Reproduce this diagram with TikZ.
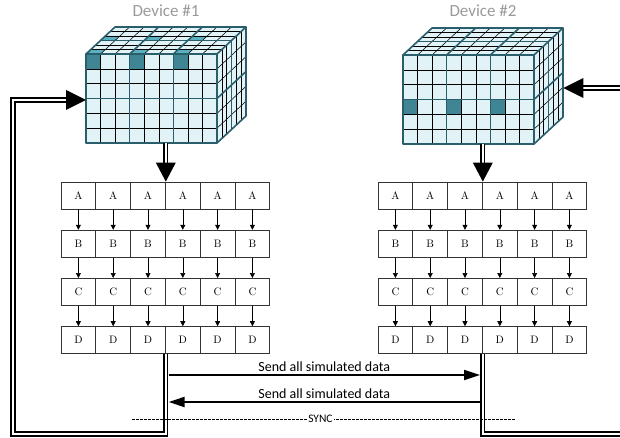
\documentclass[tikz,border=0pt]{standalone}
\usepackage{fontspec}
\newfontfamily\labelfont{Carlito}
\usetikzlibrary{arrows.meta,calc}

\definecolor{cubefill}{HTML}{E2F3F8}
\definecolor{cubeedge}{HTML}{2B5E6B}
\definecolor{cellhi}{HTML}{3F8593}
\definecolor{tophi}{HTML}{5AAFC0}
\definecolor{devgray}{HTML}{9A9A9A}

% highlighted cells of a cube: front face (column, row) and top face (column, depth)
\newcommand\frontcell[2]{\fill[cellhi] (#1*14.5556,#2*14.8333) rectangle ++(14.5556,14.8333);}
\newcommand\topcell[2]{\fill[tophi] (#1*14.5556+#2*4.8333,-#2*4.5) -- ++(14.5556,0) -- ++(4.8333,-4.5) -- ++(-14.5556,0) -- cycle;}

% a 9 x 6 x 6 voxel block; #1 = front top-left corner, #2 = highlighted cells
\newcommand\gridcube[2]{%
\begin{scope}[shift={(#1)}]
  \fill[cubefill] (0,0) rectangle (131,89);
  \fill[cubefill] (0,0) -- (29,-27) -- (160,-27) -- (131,0) -- cycle;
  \fill[cubefill] (131,0) -- (160,-27) -- (160,62) -- (131,89) -- cycle;
  #2
  \foreach \i in {1,2,4,5,7,8}{
    \draw[thingrid] (\i*14.5556,0) -- ++(0,89);
    \draw[thingrid] (\i*14.5556,0) -- ++(29,-27);
  }
  \foreach \j in {1,2,4,5}{
    \draw[thingrid] (0,\j*14.8333) -- ++(131,0);
    \draw[thingrid] (\j*4.8333,-\j*4.5) -- ++(131,0);
    \draw[thingrid] (131+\j*4.8333,-\j*4.5) -- ++(0,89);
    \draw[thingrid] (131,\j*14.8333) -- ++(29,-27);
  }
  \foreach \i in {3,6}{
    \draw[thickgrid] (\i*14.5556,0) -- ++(0,89);
    \draw[thickgrid] (\i*14.5556,0) -- ++(29,-27);
  }
  \draw[thickgrid] (0,3*14.8333) -- ++(131,0);
  \draw[thickgrid] (3*4.8333,-3*4.5) -- ++(131,0);
  \draw[thickgrid] (131+3*4.8333,-3*4.5) -- ++(0,89);
  \draw[thickgrid] (131,3*14.8333) -- ++(29,-27);
  \draw[thickgrid] (0,0) rectangle (131,89);
  \draw[thickgrid] (0,0) -- (29,-27) -- (160,-27) -- (131,0);
  \draw[thickgrid] (160,-27) -- (160,62) -- (131,89);
\end{scope}}

\begin{document}
\begin{tikzpicture}[x=1pt,y=-1pt,
  thingrid/.style={black,line width=0.55pt},
  thickgrid/.style={cubeedge,line width=1.6pt,line join=round},
  cubefront/.style={minimum width=131pt,minimum height=89pt,inner sep=0pt,anchor=north west},
  cell/.style={draw=black!80,line width=0.8pt,minimum width=34.8pt,minimum height=27pt,
    inner sep=0pt,font=\fontsize{10.8}{12}\selectfont},
  smallarr/.style={line width=0.6pt,-{Triangle[length=5pt,width=5pt]}},
  dbl/.style={draw=black,double=white,double distance=2pt,line width=1.6pt,line join=miter},
  head/.style={fill=black},
  send/.style={line width=2pt,-{Triangle[length=16pt,width=10pt]}},
  sendlabel/.style={font=\labelfont\fontsize{14}{16}\selectfont,inner sep=2pt},
  devlabel/.style={font=\labelfont\fontsize{17}{20}\selectfont,text=devgray},
  syncline/.style={line width=0.9pt,dash pattern=on 2.5pt off 1.5pt},
  synclabel/.style={font=\labelfont\fontsize{11.5}{13}\selectfont,fill=white,inner sep=1pt}]

\useasboundingbox (0,0) rectangle (620,438);

% device labels
\node[devlabel] (dev1) at (166,11) {Device \#1};
\node[devlabel] (dev2) at (483,11) {Device \#2};

% the two voxel blocks
\node[cubefront] (cube1) at (86,54) {};
\node[cubefront] (cube2) at (403,55) {};
\gridcube{86,54}{%
  \frontcell{0}{0}\frontcell{3}{0}\frontcell{6}{0}%
  \topcell{0}{0}\topcell{3}{0}\topcell{6}{0}%
  \topcell{0}{3}\topcell{3}{3}\topcell{6}{3}}
\gridcube{403,55}{%
  \frontcell{0}{3}\frontcell{3}{3}\frontcell{6}{3}}

% processing stages A-D on each device
\foreach \r [count=\ri from 0] in {A,B,C,D}{
  \foreach \c in {1,...,6}{
    \node[cell] (L-\r-\c) at (61+\c*34.8-17.4,195.5+\ri*48.2) {\r};
    \node[cell] (R-\r-\c) at (378+\c*34.8-17.4,195.5+\ri*48.2) {\r};
  }
}
\foreach \a/\b in {A/B,B/C,C/D}{
  \foreach \c in {1,...,6}{
    \draw[smallarr] (L-\a-\c.south) -- (L-\b-\c.north);
    \draw[smallarr] (R-\a-\c.south) -- (R-\b-\c.north);
  }
}

% data flowing from each block into its stages
\coordinate (d1tip) at (L-A-3.north east);
\coordinate (d2tip) at (R-A-3.north east);
\draw[dbl] (d1tip |- cube1.south) -- ($(d1tip)+(0,-18)$);
\fill[head] (d1tip) -- ++(-10,-19) -- ++(20,0) -- cycle;
\draw[dbl] (d2tip |- cube2.south) -- ($(d2tip)+(0,-18)$);
\fill[head] (d2tip) -- ++(-10,-19) -- ++(20,0) -- cycle;

% feedback loops
\coordinate (l1) at (L-D-3.south east |- 0,434);
\coordinate (l2) at (13,434);
\coordinate (l3) at (13,100);
\coordinate (c1in) at (cube1.west |- 0,100);
\draw[dbl] (L-D-3.south east) -- (l1) -- (l2) -- (l3) -- ($(c1in)+(-19,0)$);
\fill[head] (c1in) -- ++(-20,-10) -- ++(0,20) -- cycle;

\coordinate (r1) at (R-D-3.south east |- 0,434);
\coordinate (r2) at (630,434);
\draw[dbl] (R-D-3.south east) -- (r1) -- (r2);
\path (cube2.north east) ++(29,33) coordinate (c2in);
\coordinate (r3) at (630,88);
\draw[dbl] (r3) -- ($(c2in)+(19,0)$);
\fill[head] (c2in) -- ++(20,-10) -- ++(0,20) -- cycle;

% exchange between devices
\coordinate (s1a) at ($(L-D-3.south east)+(2.8,21)$);
\coordinate (s1b) at ($(R-D-3.south east)+(-2.8,21)$);
\coordinate (s2a) at ($(L-D-3.south east)+(2.8,48)$);
\coordinate (s2b) at ($(R-D-3.south east)+(-2.8,48)$);
\draw[send] (s1a) -- node[above,sendlabel] {Send all simulated data} (s1b);
\draw[send] (s2b) -- node[above,sendlabel] {Send all simulated data} (s2a);

% synchronisation barrier
\coordinate (y1) at (132,419);
\coordinate (y2) at (515,419);
\draw[syncline] (y1) -- node[pos=0.492,synclabel] {SYNC} (y2);

\end{tikzpicture}
\end{document}
